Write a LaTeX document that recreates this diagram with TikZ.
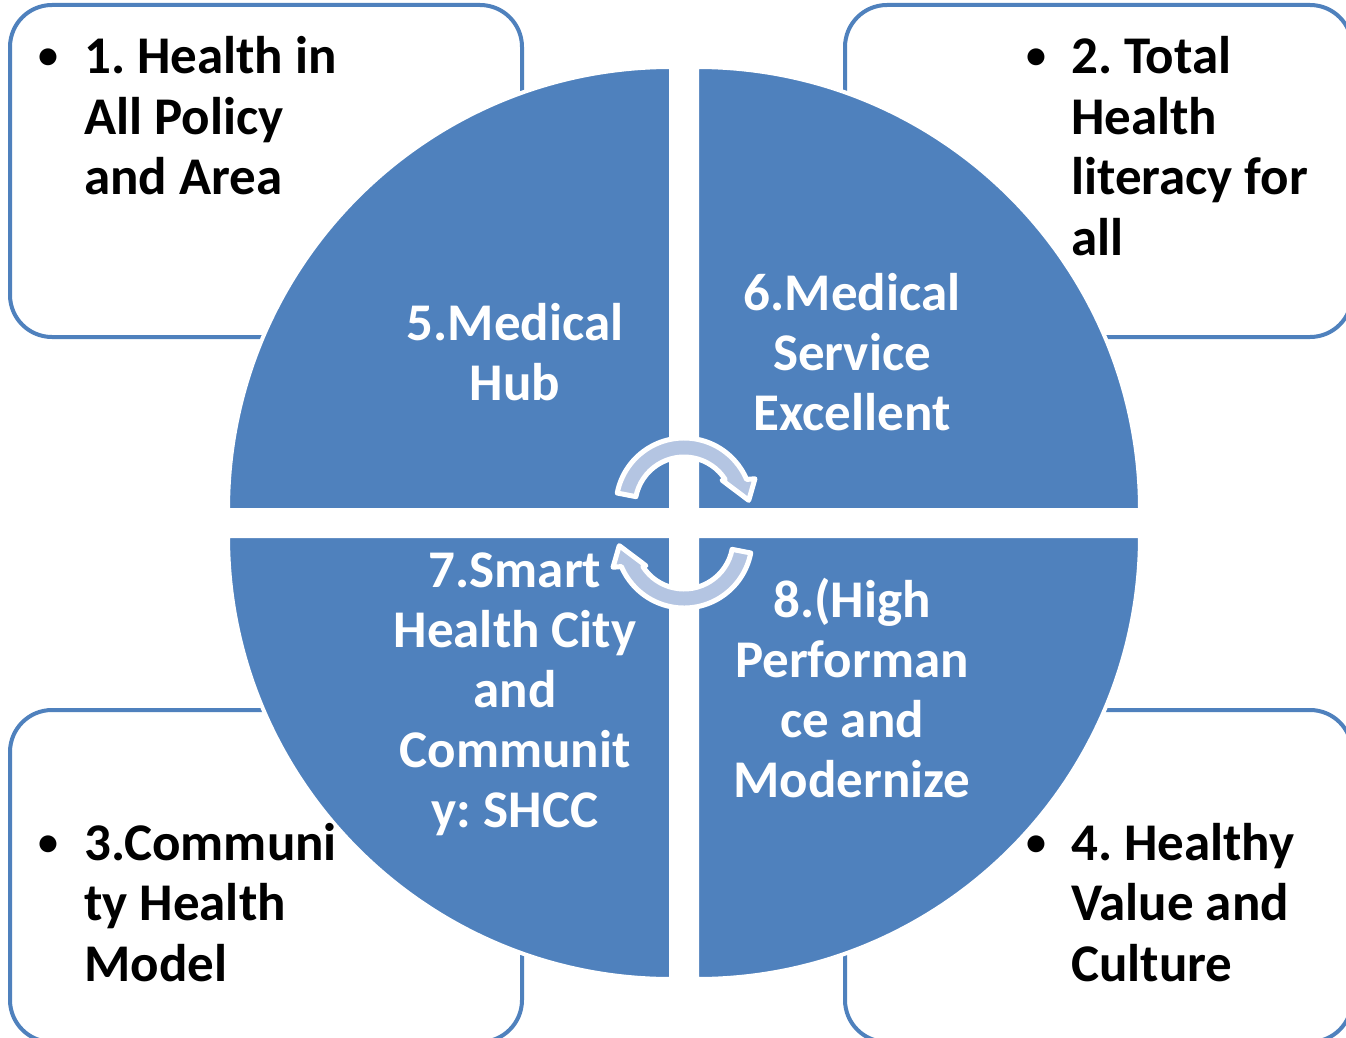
\documentclass[tikz,border=0pt]{standalone}
\usepackage{fontspec}
\usetikzlibrary{calc}
\setmainfont{Carlito}
\frenchspacing
\definecolor{pblue}{HTML}{4F81BD}
\definecolor{alight}{RGB}{180,197,226}
\newcommand{\ctext}[1]{\vtop{\halign{\hfil##\hfil\cr#1\crcr}}}
\newcommand{\ltext}[1]{\vtop{\halign{##\hfil\cr#1\crcr}}}
\begin{document}
\begin{tikzpicture}[x=1pt,y=1pt,
  box/.style={draw=pblue, line width=4pt, rounded corners=42pt, fill=white, inner sep=0pt},
  quarter/.style={fill=pblue, draw=white, line width=4pt},
  cyc/.style={fill=alight, draw=white, line width=5pt, line join=round},
  intext/.style={text=white, font=\fontsize{53}{60}\selectfont\bfseries\frenchspacing, inner sep=0pt, anchor=base},
  outtext/.style={text=black, font=\fontsize{53}{60.5}\selectfont\bfseries\frenchspacing, inner sep=0pt, anchor=base west},
  bul/.style={text=black, font=\fontsize{40}{40}\selectfont\bfseries, inner sep=0pt, anchor=base}]
\useasboundingbox (0,0) rectangle (1346,-1038);
\fill[white] (0,0) rectangle (1346,-1038);
\clip (0,0) rectangle (1346,-1038);
% corner boxes
\node[box, minimum width=512pt, minimum height=332pt] (b1) at (266,-171) {};
\node[box, minimum width=507pt, minimum height=332pt] (b2) at (1098.5,-171) {};
\node[box, minimum width=512pt, minimum height=332pt] (b3) at (266,-876) {};
\node[box, minimum width=507pt, minimum height=332pt] (b4) at (1098.5,-876) {};
% quarters
\draw[quarter] (671,-510) -- ++(-443,0) arc[start angle=180, end angle=90, radius=443] -- cycle;
\draw[quarter] (697,-510) -- ++(0,443) arc[start angle=90, end angle=0, radius=443] -- cycle;
\draw[quarter] (671,-536) -- ++(0,-443) arc[start angle=270, end angle=180, radius=443] -- cycle;
\draw[quarter] (697,-536) -- ++(443,0) arc[start angle=0, end angle=-90, radius=443] -- cycle;
% cycle arrows
\coordinate (ta) at (684,-506);
\coordinate (ba) at (684,-540);
\draw[cyc] ($(ta)+(169:68)$) arc[start angle=169, end angle=23, radius=68]
  -- ($(ta)+(21:76)$) -- ($(ta)+(5:65)$) -- ($(ta)+(34:46)$) -- ($(ta)+(33:49)$)
  arc[start angle=33, end angle=169, radius=49] -- cycle;
\draw[cyc] ($(ba)+(349:68)$) arc[start angle=349, end angle=203, radius=68]
  -- ($(ba)+(201:76)$) -- ($(ba)+(185:65)$) -- ($(ba)+(214:46)$) -- ($(ba)+(213:49)$)
  arc[start angle=213, end angle=349, radius=49] -- cycle;
% inner texts
\node[intext] (q5) at (515,-340) {\ctext{5.Medical\cr Hub}};
\node[intext] (q6) at (852,-310) {\ctext{6.Medical\cr Service\cr Excellent}};
\node[intext] (q7) at (515,-587) {\ctext{7.Smart\cr Health City\cr and\cr Communit\cr y: SHCC}};
\node[intext] (q8) at (852,-617) {\ctext{8.(High\cr Performan\cr ce and\cr Modernize}};
% corner texts
\node[bul] (u1) at (48,-69) {•};
\node[outtext] (t1) at (84,-74) {\ltext{1. Health in\cr All Policy\cr and Area}};
\node[bul] (u2) at (1036,-69) {•};
\node[outtext] (t2) at (1071,-74) {\ltext{2. Total\cr Health\cr literacy for\cr all}};
\node[bul] (u3) at (48,-855) {•};
\node[outtext] (t3) at (84,-860) {\ltext{3.Communi\cr ty Health\cr Model}};
\node[bul] (u4) at (1036,-855) {•};
\node[outtext] (t4) at (1071,-860) {\ltext{4. Healthy\cr Value and\cr Culture}};
\end{tikzpicture}
\end{document}
